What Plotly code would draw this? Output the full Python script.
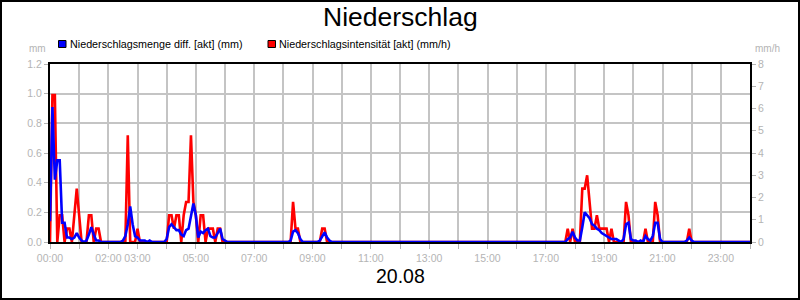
import plotly.graph_objects as go

# ---- data (5-minute steps, 00:00 ... 24:00) ----
# red: Niederschlagsintensität [akt] (mm/h) -> right axis
intensity_rows = [
    [0, 6.6, 6.6, 0, 1.2, 1.2, 0, 0.6, 0.6, 0, 1.2, 2.4],      # 00
    [1.2, 0, 0, 0, 1.2, 1.2, 0, 0.6, 0.6, 0, 0, 0],            # 01
    [0, 0, 0, 0, 0, 0, 0, 0, 4.8, 0, 0, 0],                    # 02
    [0.6, 0, 0, 0, 0, 0, 0, 0, 0, 0, 0, 0],                    # 03
    [0, 1.2, 1.2, 0.6, 1.2, 1.2, 0, 1.2, 1.8, 1.8, 4.8, 1.8],  # 04
    [1.2, 0, 1.2, 1.2, 0, 0.6, 0.6, 0.6, 0, 0.6, 0.6, 0],      # 05
    [0] * 12,                                                  # 06
    [0] * 12,                                                  # 07
    [0, 0, 0, 0, 1.8, 0.6, 0.6, 0, 0, 0, 0, 0],                # 08
    [0, 0, 0, 0, 0.6, 0.6, 0, 0, 0, 0, 0, 0],                  # 09
    [0] * 12, [0] * 12, [0] * 12, [0] * 12,                    # 10-13
    [0] * 12, [0] * 12, [0] * 12,                              # 14-16
    [0, 0, 0, 0, 0, 0, 0, 0, 0, 0.6, 0, 0.6],                  # 17
    [0, 0, 0, 2.4, 2.4, 3.0, 1.8, 0.6, 0.6, 1.2, 0.6, 0.6],    # 18
    [0.6, 0.6, 0, 0.6, 0, 0, 0, 0, 0, 1.8, 1.2, 0],            # 19
    [0, 0, 0, 0, 0, 0.6, 0, 0, 0, 1.8, 1.2, 0],                # 20
    [0, 0, 0, 0, 0, 0, 0, 0, 0, 0, 0, 0.6],                    # 21
    [0] * 12,                                                  # 22
    [0] * 12,                                                  # 23
    [0],                                                       # 24:00
]
# blue: Niederschlagsmenge diff. [akt] (mm) -> left axis
amount_rows = [
    [0.14, 0.91, 0.42, 0.55, 0.55, 0.13, 0.13, 0.03, 0.03, 0.02, 0.03, 0.06],  # 00
    [0.03, 0.01, 0, 0.01, 0.05, 0.10, 0.05, 0.01, 0.01, 0, 0, 0],              # 01
    [0, 0, 0, 0, 0, 0, 0.01, 0.04, 0.12, 0.24, 0.12, 0.04],                    # 02
    [0.03, 0.01, 0.01, 0.01, 0, 0.01, 0, 0, 0, 0, 0, 0],                       # 03
    [0.02, 0.10, 0.12, 0.10, 0.08, 0.08, 0.05, 0.04, 0.08, 0.09, 0.17, 0.26],  # 04
    [0.18, 0.03, 0.07, 0.06, 0.08, 0.09, 0.04, 0.03, 0.03, 0.06, 0.09, 0.02],  # 05
    [0.01, 0, 0, 0, 0, 0, 0, 0, 0, 0, 0, 0],                                   # 06
    [0] * 12,                                                                  # 07
    [0, 0, 0, 0.01, 0.07, 0.08, 0.06, 0.02, 0, 0, 0, 0],                       # 08
    [0, 0, 0, 0.01, 0.04, 0.065, 0.03, 0.01, 0, 0, 0, 0],                      # 09
    [0] * 12, [0] * 12, [0] * 12, [0] * 12,                                    # 10-13
    [0] * 12, [0] * 12, [0] * 12,                                              # 14-16
    [0, 0, 0, 0, 0, 0, 0, 0, 0, 0.02, 0.03, 0.07],                             # 17
    [0.03, 0.01, 0.01, 0.10, 0.20, 0.18, 0.16, 0.12, 0.11, 0.09, 0.08, 0.06],  # 18
    [0.05, 0.04, 0.03, 0.02, 0.02, 0.02, 0.01, 0, 0.02, 0.12, 0.13, 0.02],     # 19
    [0.01, 0.01, 0, 0.01, 0, 0.04, 0.02, 0.01, 0.04, 0.13, 0.13, 0.02],        # 20
    [0, 0, 0, 0, 0, 0, 0, 0, 0, 0, 0.01, 0.03],                                # 21
    [0.01, 0, 0, 0, 0, 0, 0, 0, 0, 0, 0, 0],                                   # 22
    [0] * 12,                                                                  # 23
    [0],                                                                       # 24:00
]
hour_ticks = list(range(25))
hour_labels = ["00:00", "", "02:00", "03:00", "", "05:00", "", "07:00", "", "09:00", "",
               "11:00", "", "13:00", "", "15:00", "", "17:00", "", "19:00", "", "21:00",
               "", "23:00", ""]
title_text = "Niederschlag"
date_text = "20.08"
name_amount = "Niederschlagsmenge diff. [akt] (mm)"
name_intensity = "Niederschlagsintensität [akt] (mm/h)"

intensity = [v for row in intensity_rows for v in row]
amount = [v for row in amount_rows for v in row]
times = [i * 5 / 60 for i in range(len(intensity))]

FONT = "Liberation Sans, Arial, sans-serif"
GRID = "#c4c4c4"
TICKC = "#b4b4b4"

W, H = 800, 300
L, R, T, B = 50, 50, 64, 58
PW, PH = W - L - R, H - T - B


def px(x):
    return (x - L) / PW


def py(y):
    return (H - B - y) / PH


fig = go.Figure()
# red on the base (right-hand) axis, blue on the overlaying (left-hand) axis -> blue drawn on top
fig.add_trace(go.Scatter(x=times, y=intensity, yaxis="y", mode="lines",
                         line=dict(color="#ff0000", width=2.6), showlegend=False,
                         name=name_intensity))
fig.add_trace(go.Scatter(x=times, y=amount, yaxis="y2", mode="lines",
                         line=dict(color="#0000ff", width=2.6), showlegend=False,
                         name=name_amount))

fig.update_layout(
    width=W, height=H,
    margin=dict(l=L, r=R, t=T, b=B, pad=0),
    paper_bgcolor="white", plot_bgcolor="white",
    font=dict(family=FONT),
    xaxis=dict(range=[0, 24], tickmode="array", tickvals=hour_ticks, ticktext=hour_labels,
               showgrid=True, gridcolor=GRID, gridwidth=1.5, zeroline=False,
               ticks="outside", ticklen=5, tickcolor=TICKC, tickwidth=1,
               showline=True, linecolor="black", linewidth=2, mirror=True,
               tickfont=dict(size=10.5, color=TICKC)),
    yaxis=dict(range=[0, 8], dtick=1, tick0=0, side="right",
               showgrid=False, zeroline=False, ticks="outside", ticklen=4,
               tickcolor=TICKC, showline=True, linecolor="black", linewidth=2,
               tickfont=dict(size=10.5, color=TICKC)),
    yaxis2=dict(range=[0, 1.2], dtick=0.2, tick0=0, tickformat=".1f",
                overlaying="y", side="left",
                showgrid=True, gridcolor=GRID, gridwidth=1.5, zeroline=False,
                ticks="outside", ticklen=4, tickcolor=TICKC,
                showline=True, linecolor="black", linewidth=2,
                tickfont=dict(size=10.5, color=TICKC)),
)

annotations = [
    dict(text=title_text, x=0.5, y=py(17.5), font=dict(size=26.5, color="black")),
    dict(text=date_text, x=0.5, y=py(275.5), font=dict(size=19.5, color="black")),
    dict(text="mm", x=px(48), y=py(49), xanchor="right", font=dict(size=10, color=TICKC)),
    dict(text="mm/h", x=px(753), y=py(49), xanchor="left", font=dict(size=10, color=TICKC)),
    dict(text=name_amount, x=px(67.5), y=py(44), xanchor="left", font=dict(size=10.75, color="black")),
    dict(text=name_intensity, x=px(276.5), y=py(44), xanchor="left", font=dict(size=10.75, color="black")),
]
for a in annotations:
    a.setdefault("xanchor", "center")
    a.update(xref="paper", yref="paper", yanchor="middle", showarrow=False)
fig.update_layout(annotations=annotations)

shapes = [
    dict(type="rect", xref="paper", yref="paper", x0=px(58.5), x1=px(66), y0=py(47.5), y1=py(40.5),
         fillcolor="#0000ff", line=dict(color="black", width=1)),
    dict(type="rect", xref="paper", yref="paper", x0=px(268), x1=px(275.5), y0=py(47.5), y1=py(40.5),
         fillcolor="#ff0000", line=dict(color="black", width=1)),
    dict(type="rect", xref="paper", yref="paper", x0=px(1), x1=px(799), y0=py(299), y1=py(1),
         line=dict(color="black", width=2), fillcolor="rgba(0,0,0,0)"),
]
fig.update_layout(shapes=shapes)

fig.write_html("out.html")
